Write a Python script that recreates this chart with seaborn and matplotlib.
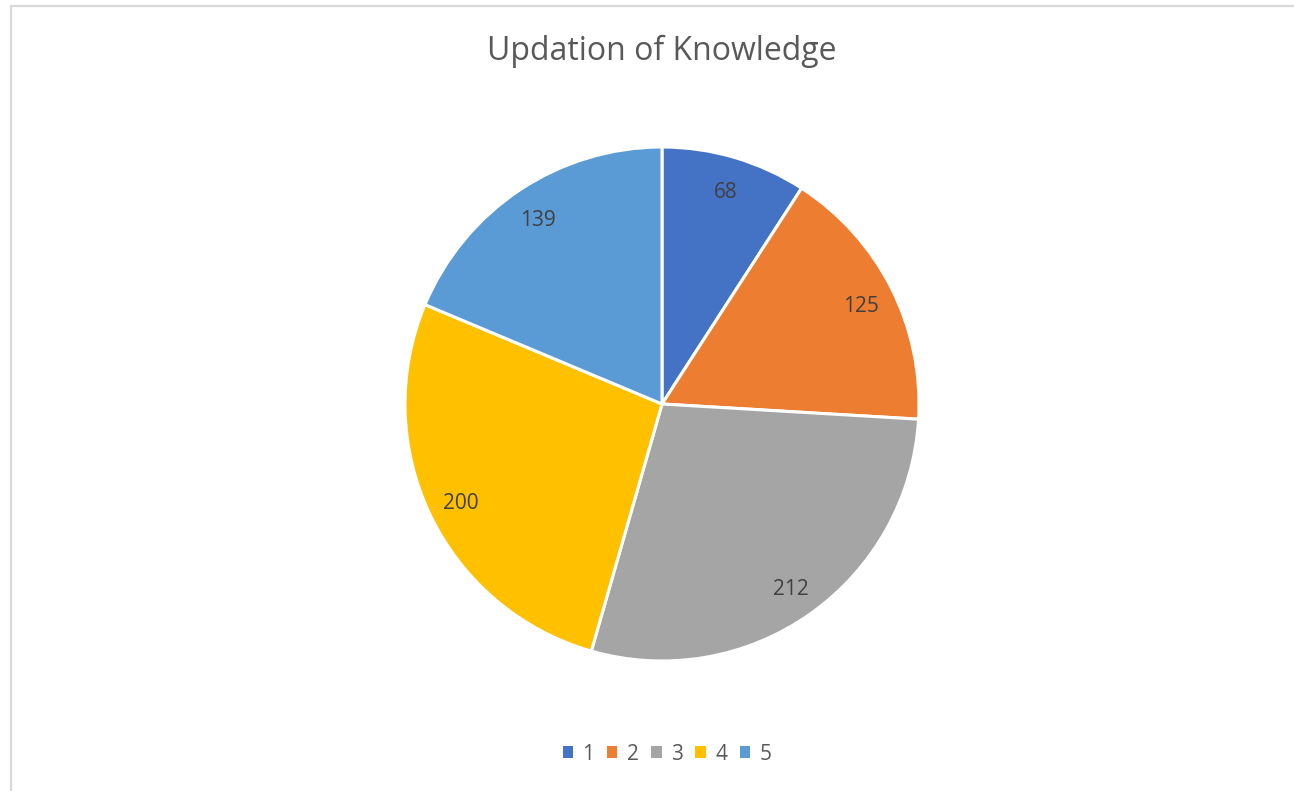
import matplotlib
matplotlib.use("Agg")
import matplotlib.pyplot as plt
from matplotlib.patches import Rectangle, Patch
import seaborn as sns

# chart data
categories = ["1", "2", "3", "4", "5"]
values = [68, 125, 212, 200, 139]
colors = ["#4472C4", "#ED7D31", "#A5A5A5", "#FFC000", "#5B9BD5"]
title = "Updation of Knowledge"

sns.set_theme(style="white")
plt.rcParams["font.family"] = ["Open Sans", "DejaVu Sans"]

W, H = 1294, 791
fig = plt.figure(figsize=(W / 100, H / 100), dpi=100)
fig.patch.set_facecolor("white")

# chart area border (extends past the right and bottom edges)
fig.patches.append(Rectangle((10.5 / W, -0.1), 1.2, (H - 5.5) / H + 0.1,
                             transform=fig.transFigure, fill=False,
                             edgecolor="#D9D9D9", linewidth=1.6))

# pie axes placed in pixel terms: centre (662, 404), radius 257
cx, cy, r = 662, 404, 257
ax = fig.add_axes([(cx - r) / W, (H - cy - r) / H, 2 * r / W, 2 * r / H])
palette = sns.color_palette(colors)
wedges, texts = ax.pie(values, labels=[str(v) for v in values], colors=palette,
                       startangle=90, counterclock=False, radius=1,
                       labeldistance=0.87,
                       wedgeprops=dict(edgecolor="white", linewidth=2.2),
                       textprops=dict(fontsize=15, color="#404040"))
for t in texts:
    t.set_horizontalalignment("center")
    t.set_verticalalignment("center")
    # nudge slightly down, like the reference labels
    x, y = t.get_position()
    t.set_position((x, y - 0.012))
ax.set_xlim(-1, 1)
ax.set_ylim(-1, 1)
ax.set_aspect("equal")
ax.axis("off")

fig.text(662 / W, 1 - 51 / H, title, ha="center", va="center",
         fontsize=23, color="#595959")

handles = [Patch(facecolor=c, edgecolor="none") for c in palette]
fig.legend(handles, categories, loc="center", bbox_to_anchor=(667 / W, 1 - 754 / H),
           ncol=5, frameon=False, fontsize=15, handlelength=0.5, handleheight=0.5,
           handletextpad=0.45, columnspacing=0.6, labelcolor="#595959")

fig.savefig("out.png", dpi=100, facecolor="white")
